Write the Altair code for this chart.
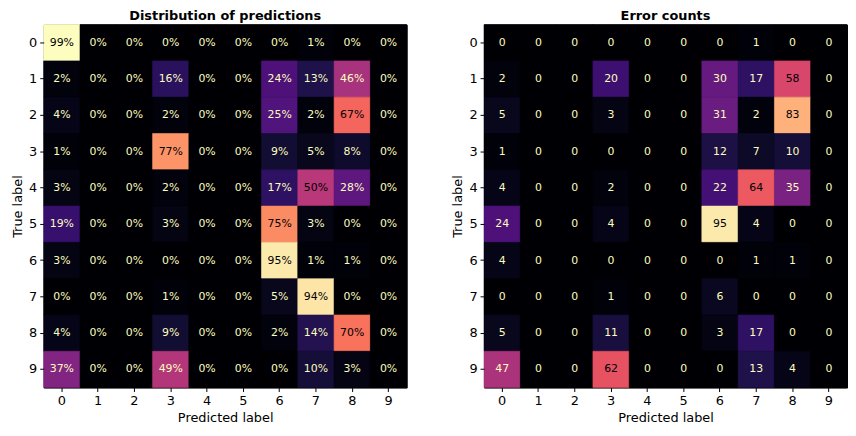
import altair as alt
import pandas as pd

labels = [str(i) for i in range(10)]

pct_rows = [
    [99, 0, 0, 0, 0, 0, 0, 1, 0, 0],
    [2, 0, 0, 16, 0, 0, 24, 13, 46, 0],
    [4, 0, 0, 2, 0, 0, 25, 2, 67, 0],
    [1, 0, 0, 77, 0, 0, 9, 5, 8, 0],
    [3, 0, 0, 2, 0, 0, 17, 50, 28, 0],
    [19, 0, 0, 3, 0, 0, 75, 3, 0, 0],
    [3, 0, 0, 0, 0, 0, 95, 1, 1, 0],
    [0, 0, 0, 1, 0, 0, 5, 94, 0, 0],
    [4, 0, 0, 9, 0, 0, 2, 14, 70, 0],
    [37, 0, 0, 49, 0, 0, 0, 10, 3, 0],
]

err_rows = [
    [0, 0, 0, 0, 0, 0, 0, 1, 0, 0],
    [2, 0, 0, 20, 0, 0, 30, 17, 58, 0],
    [5, 0, 0, 3, 0, 0, 31, 2, 83, 0],
    [1, 0, 0, 0, 0, 0, 12, 7, 10, 0],
    [4, 0, 0, 2, 0, 0, 22, 64, 35, 0],
    [24, 0, 0, 4, 0, 0, 95, 4, 0, 0],
    [4, 0, 0, 0, 0, 0, 0, 1, 1, 0],
    [0, 0, 0, 1, 0, 0, 6, 0, 0, 0],
    [5, 0, 0, 11, 0, 0, 3, 17, 0, 0],
    [47, 0, 0, 62, 0, 0, 0, 13, 4, 0],
]

FONT = "DejaVu Sans"
DARK = "#000004"
LIGHT = "#fcfdbf"

axis_cfg = dict(
    labelFont=FONT, titleFont=FONT, labelFontSize=13, titleFontSize=13,
    titleFontWeight="normal", labelColor="black", titleColor="black",
    tickColor="black", labelAngle=0, tickSize=4,
    labelPadding=3, titlePadding=4, grid=False, domain=False,
)


def panel(rows, title, suffix):
    recs = []
    for i, row in enumerate(rows):
        for j, v in enumerate(row):
            recs.append({"true": labels[i], "pred": labels[j], "value": v,
                         "label": f"{v}{suffix}"})
    df = pd.DataFrame(recs)
    vmin = min(min(r) for r in rows)
    vmax = max(max(r) for r in rows)
    thresh = (vmin + vmax) / 2.0
    x = alt.X("pred:O", sort=labels, title="Predicted label",
              scale=alt.Scale(paddingInner=0, paddingOuter=0),
              axis=alt.Axis(**axis_cfg))
    y = alt.Y("true:O", sort=labels, title="True label",
              scale=alt.Scale(paddingInner=0, paddingOuter=0),
              axis=alt.Axis(**axis_cfg))
    cscale = alt.Scale(scheme="magma", domain=[vmin, vmax])
    base = alt.Chart(df)
    rect = base.mark_rect(strokeWidth=0.6).encode(
        x=x, y=y,
        color=alt.Color("value:Q", scale=cscale, legend=None),
        stroke=alt.Stroke("value:Q", scale=cscale, legend=None),
    )
    text = base.mark_text(font=FONT, fontSize=11).encode(
        x=x, y=y, text="label:N",
        color=alt.condition(alt.datum.value >= thresh, alt.value(DARK), alt.value(LIGHT)),
    )
    return (rect + text).properties(
        width=366, height=366,
        title=alt.TitleParams(title, font=FONT, fontSize=13, fontWeight="bold",
                              color="black", offset=1),
    )


left = panel(pct_rows, "Distribution of predictions", "%")
right = panel(err_rows, "Error counts", "")

chart = alt.hconcat(
    left, right, spacing=44,
    padding={"left": 3, "top": 0, "right": 0, "bottom": 0},
).configure_view(stroke="black", strokeWidth=1, fill="black")

chart.save("out.html", embed_options={"renderer": "svg", "actions": False})
